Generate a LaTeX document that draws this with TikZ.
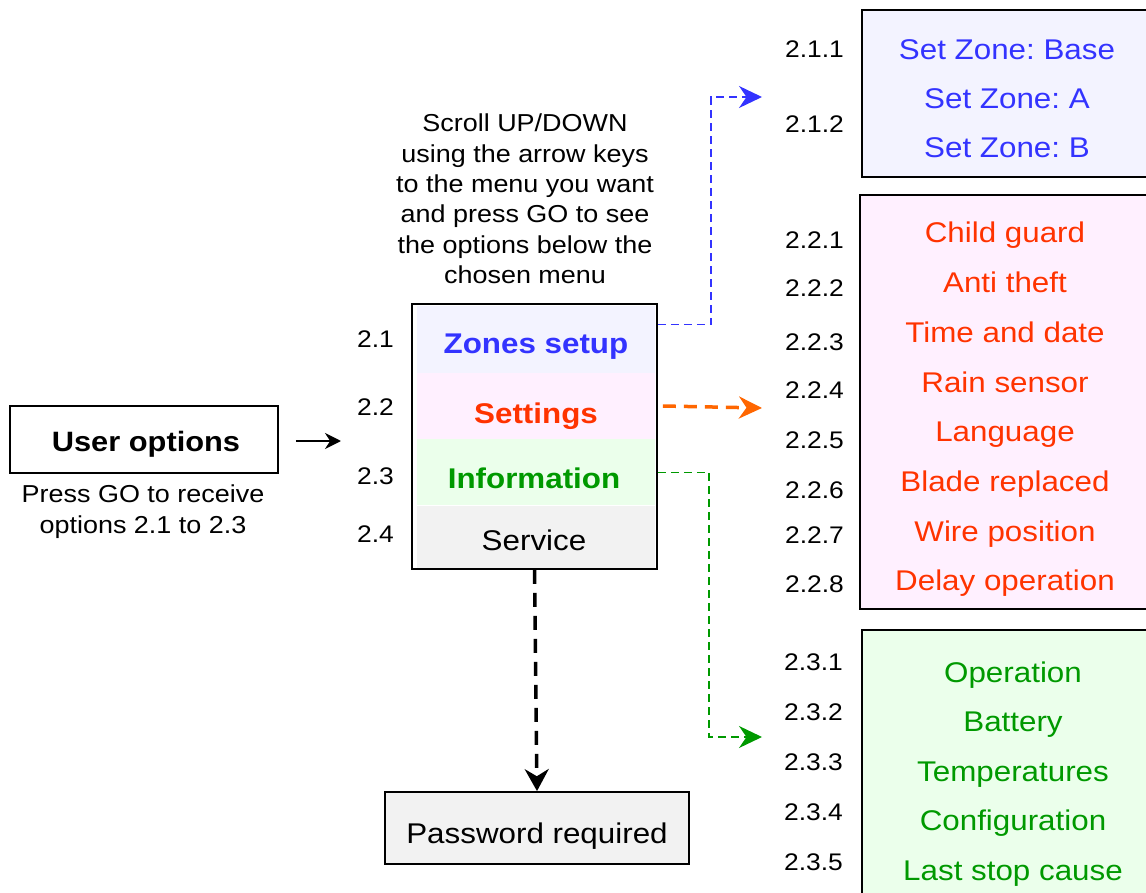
\documentclass[tikz,border=0pt]{standalone}
\usepackage{fontspec}
\setmainfont[FakeStretch=1.1]{Liberation Sans}
\usetikzlibrary{positioning,arrows.meta}
\definecolor{zoneblue}{HTML}{3333FF}
\definecolor{zonefill}{HTML}{F3F3FF}
\definecolor{setred}{HTML}{FF3300}
\definecolor{setorange}{HTML}{FF6600}
\definecolor{setfill}{HTML}{FFF0FF}
\definecolor{infogreen}{HTML}{009900}
\definecolor{infofill}{HTML}{EBFFEB}
\definecolor{servfill}{HTML}{F2F2F2}
\frenchspacing

\begin{document}
\begin{tikzpicture}[x=1pt, y=-1pt,
    box/.style={draw, line width=1.8pt, inner sep=0pt},
    band/.style={inner sep=0pt, minimum width=238pt, minimum height=66pt},
    entry/.style={anchor=base, inner sep=0pt, font=\fontsize{28.5}{30}\selectfont},
    menuentry/.style={anchor=base, inner sep=0pt, font=\bfseries\fontsize{28.5}{30}\selectfont},
    num/.style={anchor=base east, inner sep=0pt, font=\fontsize{24}{26}\selectfont},
    note/.style={align=center, inner sep=0pt, anchor=north, font=\fontsize{24.5}{30.3}\selectfont},
    link/.style={dashed, -{Stealth[length=23pt, width=22pt]}}]

    \useasboundingbox (0,0) rectangle (1146,893);

    % user options
    \node[box, minimum width=268pt, minimum height=67pt] (user) at (144,439.5) {};
    \node[menuentry, font=\bfseries\fontsize{28}{30}\selectfont] (usertxt) at (146,451) {User options};
    \node[note] (usernote) at (143,485) {Press GO to receive\\options 2.1 to 2.3};
    \coordinate (menuin) at (341,441);
    \draw[line width=2.2pt, -{Stealth[length=16pt, width=16pt]}] ([xshift=17pt, yshift=-1.5pt]user.east) -- (menuin);

    % menu
    \node[note] (scroll) at (525,114) {Scroll UP/DOWN\\using the arrow keys\\to the menu you want\\and press GO to see\\the options below the\\chosen menu};
    \node[band, fill=zonefill] (zones) at (536,339.5) {};
    \node[band, fill=setfill, below=0pt of zones] (settings) {};
    \node[band, fill=infofill, below=0pt of settings] (info) {};
    \node[band, fill=servfill, minimum height=62pt, below=0pt of info] (service) {};
    \node[box, minimum width=245pt, minimum height=265pt] (menu) at (534.5,436.5) {};
    \node[menuentry, text=zoneblue] (zonestxt) at (536,353) {Zones setup};
    \node[menuentry, text=setred] (settxt) at (536,423) {Settings};
    \node[menuentry, text=infogreen] (infotxt) at (534,488) {Information};
    \node[entry] (servtxt) at (534,550) {Service};
    \foreach \i/\yb in {1/348, 2/415, 3/484, 4/542}
      \node[num] (m-\i) at (394,\yb) {2.\i};

    % zones
    \node[box, fill=zonefill, minimum width=288pt, minimum height=167pt] (zonebox) at (1006,93.5) {};
    \foreach \txt [count=\i] in {Set Zone: Base, Set Zone: A, Set Zone: B}
      \node[entry, text=zoneblue] (z-\i) at (1007,{60+49*(\i-1)}) {\txt};
    \node[num] (zn-1) at (844,58) {2.1.1};
    \node[num] (zn-2) at (844,133) {2.1.2};

    % settings
    \node[box, fill=setfill, minimum width=290pt, minimum height=414pt] (setbox) at (1005,402) {};
    \foreach \txt [count=\i] in {Child guard, Anti theft, Time and date, Rain sensor,
        Language, Blade replaced, Wire position, Delay operation}
      \node[entry, text=setred] (s-\i) at (1005,{243+49.7*(\i-1)}) {\txt};
    \foreach \i/\yb in {1/249, 2/297, 3/350, 4/398, 5/448, 6/498, 7/543, 8/592}
      \node[num] (sn-\i) at (844,\yb) {2.2.\i};

    % information
    \node[box, fill=infofill, minimum width=288pt, minimum height=267pt] (infobox) at (1006,763.5) {};
    \foreach \txt [count=\i] in {Operation, Battery, Temperatures, Configuration, Last stop cause}
      \node[entry, text=infogreen] (i-\i) at (1013,{682+49.5*(\i-1)}) {\txt};
    \foreach \i in {1,...,5}
      \node[num] (in-\i) at (843,{670+50*(\i-1)}) {2.3.\i};

    % service
    \node[box, fill=servfill, minimum width=304pt, minimum height=72pt] (pass) at (537,828) {};
    \node[entry] (passtxt) at (537,843) {Password required};

    % links
    \coordinate (zonetip) at (762,97);
    \coordinate (settip) at (762,408);
    \coordinate (infotip) at (762,737);
    \draw[link, zoneblue, line width=1.3pt, dash pattern=on 8pt off 5pt]
      ([yshift=15pt]zones.east -| menu.east) -| (711,97) -- (zonetip);
    \draw[link, setorange, line width=3.5pt, dash pattern=on 13pt off 8pt, shorten <=5pt]
      (settings.east -| menu.east) -- (settip);
    \draw[link, infogreen, line width=1.3pt, dash pattern=on 8pt off 5pt]
      (info.east -| menu.east) -| (709,737) -- (infotip);
    \draw[link, line width=3.5pt, dash pattern=on 14pt off 9pt,
      -{Stealth[length=22pt, width=24pt]}] (menu.south) -- (pass.north);
\end{tikzpicture}
\end{document}
